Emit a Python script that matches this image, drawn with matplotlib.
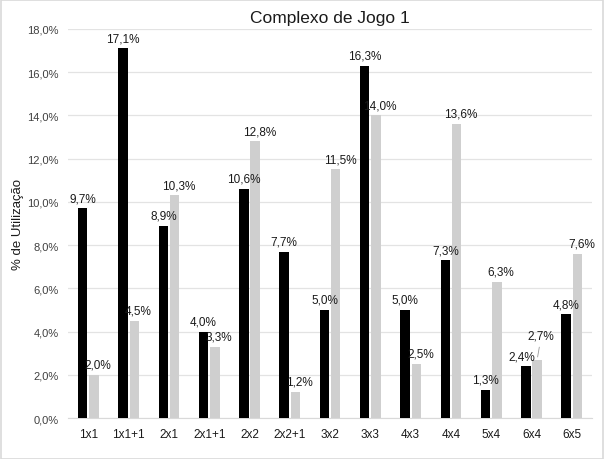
import numpy as np
import matplotlib.pyplot as plt

plt.rcParams['font.family'] = ['Liberation Sans', 'DejaVu Sans']

categories = ['1x1', '1x1+1', '2x1', '2x1+1', '2x2', '2x2+1', '3x2', '3x3',
              '4x3', '4x4', '5x4', '6x4', '6x5']
serie_preta = [9.7, 17.1, 8.9, 4.0, 10.6, 7.7, 5.0, 16.3, 5.0, 7.3, 1.3, 2.4, 4.8]
serie_cinza = [2.0, 4.5, 10.3, 3.3, 12.8, 1.2, 11.5, 14.0, 2.5, 13.6, 6.3, 2.7, 7.6]
y_ticks = [0, 2, 4, 6, 8, 10, 12, 14, 16, 18]


def fmt(v):
    return ('%.1f%%' % v).replace('.', ',')


fig = plt.figure(figsize=(6.04, 4.60), dpi=100)
ax = fig.add_axes([0.113, 0.089, 0.867, 0.846])

x = np.arange(len(categories))
w = 0.232
off = 0.14
bars1 = ax.bar(x - off, serie_preta, w, color='#000000', zorder=3)
bars2 = ax.bar(x + off, serie_cinza, w, color='#cfcfcf', zorder=3)

for i, b in enumerate(bars1):
    dx = -3 if categories[i] == '6x4' else 0
    ax.annotate(fmt(serie_preta[i]), (b.get_x() + b.get_width() / 2, b.get_height()),
                xytext=(dx, 3), textcoords='offset points', ha='center', va='bottom',
                fontsize=8.5, color='#1a1a1a')
for i, b in enumerate(bars2):
    dy = 3
    arrow = None
    if categories[i] == '6x4':
        dy = 13
        arrow = dict(arrowstyle='-', color='#999999', lw=0.6)
    ax.annotate(fmt(serie_cinza[i]), (b.get_x() + b.get_width() / 2, b.get_height()),
                xytext=(3, dy), textcoords='offset points', ha='center', va='bottom',
                fontsize=8.5, color='#1a1a1a', arrowprops=arrow)

ax.set_xlim(-0.5, len(categories) - 0.5)
ax.set_ylim(0, 18)
ax.set_yticks(y_ticks)
ax.set_yticklabels([fmt(t) for t in y_ticks], fontsize=8, color='#404040')
ax.set_xticks(x)
ax.set_xticklabels(categories, fontsize=8.5, color='#1a1a1a')
ax.tick_params(length=0, pad=7)
ax.yaxis.grid(True, color='#e3e3e3', lw=0.9, zorder=0)
for s in ['top', 'right', 'left']:
    ax.spines[s].set_visible(False)
ax.spines['bottom'].set_color('#d9d9d9')
ax.set_ylabel('% de Utilização', fontsize=9.5, color='#1a1a1a', labelpad=2)
ax.set_title('Complexo de Jogo 1', fontsize=12.5, color='#1a1a1a', pad=5)

fig.patches.append(plt.Rectangle((0.001, 0.001), 0.997, 0.997, transform=fig.transFigure,
                                 fill=False, edgecolor='#d9d9d9', lw=1.2))

fig.savefig('out.png', dpi=100)
